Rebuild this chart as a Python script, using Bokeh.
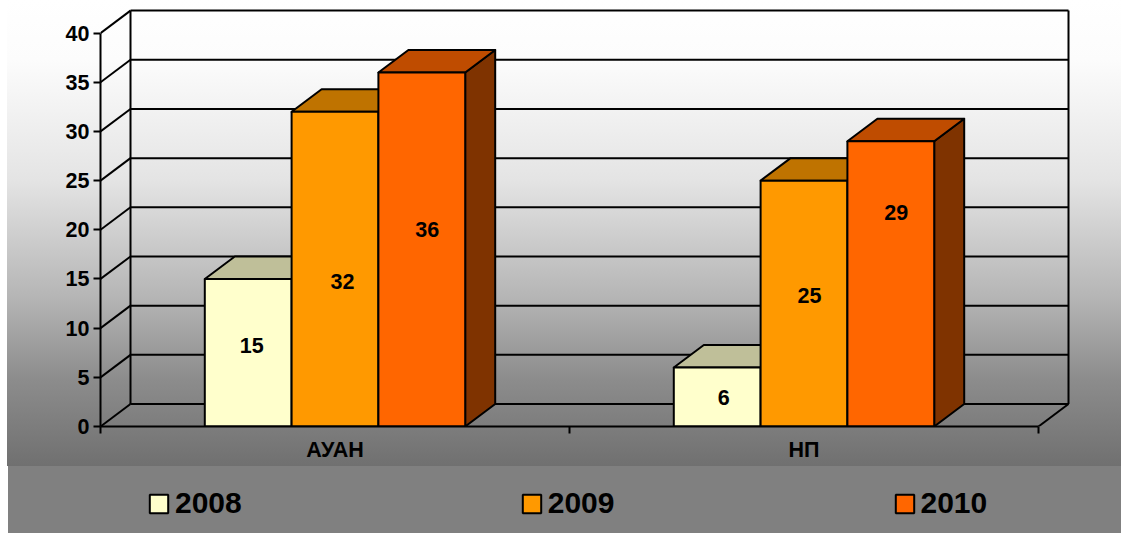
from bokeh.embed import file_html
from bokeh.resources import INLINE
from bokeh.plotting import figure
from bokeh.layouts import column
from bokeh.models import Range1d, FixedTicker, Legend, LegendItem, InlineStyleSheet
from bokeh.core.properties import value
import numpy as np

# ---- data ----
categories = ["АУАН", "НП"]
series_names = ["2008", "2009", "2010"]
values_2008 = [15, 6]
values_2009 = [32, 25]
values_2010 = [36, 29]
y_ticks = [0, 5, 10, 15, 20, 25, 30, 35, 40]

# ---- style / layout ----
FRONT = ["#FFFFCC", "#FF9900", "#FF6600"]
TOP = ["#BFBF99", "#BF7300", "#BF4C00"]
SIDE = ["#7F7F66", "#7F4C00", "#7F3300"]
PX_X = 469.0            # pixels per category
PX_Y = 9.835            # pixels per value unit
DX = 30 / PX_X          # oblique depth in x units
DY = 22.5 / PX_Y        # oblique depth in y units
BAR_W = 86.8 / PX_X
FW, FH = 971, 420
# label anchors as placed (by hand) in the source chart
LABEL_Y = [[8.2, 2.9], [14.7, 13.3], [20.0, 21.8]]
LABEL_DX = [[3.5 / PX_X, 6.5 / PX_X], [7.5 / PX_X, 5.5 / PX_X], [5.5 / PX_X, 5.5 / PX_X]]

css_top = (":host{background-color:#ffffff;background-repeat:no-repeat;background-position:7px 0;"
           "background-size:1114px 466px;background-image:linear-gradient(to bottom,"
           "#ffffff 0px,#fcfcfc 60px,#e4e4e4 180px,#b4b4b4 300px,#8c8c8c 380px,#707070 466px);}")
css_bottom = (":host{background-color:#ffffff;background-repeat:no-repeat;background-position:8px 0;"
              "background-size:1113px 67px;"
              "background-image:linear-gradient(to bottom,#808080,#808080);}")

p = figure(width=1121, height=466, frame_width=FW, frame_height=FH,
           x_range=Range1d(0, FW / PX_X), y_range=Range1d(0, FH / PX_Y),
           output_backend="svg", toolbar_location=None,
           min_border_left=100, min_border_right=50, min_border_top=6, min_border_bottom=40,
           border_fill_color=None, background_fill_color=None, outline_line_color=None,
           x_axis_type="linear", y_axis_type="linear",
           stylesheets=[InlineStyleSheet(css=css_top)])
p.grid.visible = False

# axes
ya = p.yaxis[0]
ya.ticker = FixedTicker(ticks=y_ticks)
ya.bounds = (0, 40)
ya.axis_line_color = "black"; ya.axis_line_width = 2
ya.major_tick_in = 0; ya.major_tick_out = 7
ya.major_tick_line_color = "black"; ya.major_tick_line_width = 2
ya.minor_tick_line_color = None
ya.major_label_text_font = "Liberation Sans"
ya.major_label_text_font_style = "bold"
ya.major_label_text_font_size = "21.5px"
ya.major_label_text_color = "black"
ya.major_label_standoff = 4

xa = p.xaxis[0]
xa.ticker = FixedTicker(ticks=[0.5, 1.5], minor_ticks=[0, 1, 2])
xa.major_label_overrides = {0.5: categories[0], 1.5: categories[1]}
xa.bounds = (0, 2)
xa.axis_line_color = "black"; xa.axis_line_width = 2
xa.major_tick_line_color = None
xa.major_tick_in = 0; xa.major_tick_out = 0
xa.minor_tick_in = 0; xa.minor_tick_out = 7
xa.minor_tick_line_color = "black"; xa.minor_tick_line_width = 2
xa.major_label_text_font = "Liberation Sans"
xa.major_label_text_font_style = "bold"
xa.major_label_text_font_size = "21.5px"
xa.major_label_text_color = "black"
xa.major_label_standoff = 4

# walls and floor
xend = 2.0
top_val = max(y_ticks)
ticks = np.array(y_ticks, dtype=float)
p.segment(x0=[DX] * len(ticks), y0=ticks + DY, x1=[xend + DX] * len(ticks), y1=ticks + DY,
          line_color="black", line_width=2)
p.segment(x0=[0] * len(ticks), y0=ticks, x1=[DX] * len(ticks), y1=ticks + DY,
          line_color="black", line_width=2)
p.segment(x0=[DX, xend + DX, xend], y0=[DY, DY, 0],
          x1=[DX, xend + DX, xend + DX], y1=[top_val + DY, top_val + DY, DY],
          line_color="black", line_width=2)

# bars
centers = np.array([0.5, 1.5])
all_vals = [values_2008, values_2009, values_2010]
for i, (name, vals) in enumerate(zip(series_names, all_vals)):
    vals = np.array(vals, dtype=float)
    left = centers + (i - 1.5) * BAR_W
    right = left + BAR_W
    p.patches([[r, r + DX, r + DX, r] for r in right],
              [[0, DY, v + DY, v] for v in vals],
              fill_color=SIDE[i], line_color="black", line_width=2, line_join="round")
    p.patches([[l, r, r + DX, l + DX] for l, r in zip(left, right)],
              [[v, v, v + DY, v + DY] for v in vals],
              fill_color=TOP[i], line_color="black", line_width=2, line_join="round")
    p.quad(left=left, right=right, bottom=0, top=vals,
           fill_color=FRONT[i], line_color="black", line_width=2)

for i, vals in enumerate(all_vals):
    left = centers + (i - 1.5) * BAR_W
    p.text(x=left + BAR_W / 2 + np.array(LABEL_DX[i]), y=LABEL_Y[i], text=[str(v) for v in vals],
           text_font=value("Liberation Sans"), text_font_style="bold",
           text_font_size="21.5px", text_color="black",
           text_align="center", text_baseline="middle")

# legend band: its own strip under the chart, so that the legend is not cut by the chart's frame
q = figure(width=1121, height=67, x_range=Range1d(0, 1), y_range=Range1d(0, 1),
           output_backend="svg", toolbar_location=None,
           x_axis_location=None, y_axis_location=None,
           min_border_left=0, min_border_right=0, min_border_top=0, min_border_bottom=0,
           border_fill_color=None, background_fill_color=None, outline_line_color=None,
           stylesheets=[InlineStyleSheet(css=css_bottom)])
q.grid.visible = False
items = []
for i, name in enumerate(series_names):
    key = q.quad(left=[2], right=[2], bottom=[2], top=[2],
                 fill_color=FRONT[i], line_color="black", line_width=2)
    items.append(LegendItem(label=name, renderers=[key]))
legend = Legend(items=items, orientation="horizontal", location=(47, 13),
                glyph_width=23, glyph_height=23, label_standoff=5, spacing=278,
                padding=0, margin=0, border_line_color=None, background_fill_alpha=0,
                label_text_font="Liberation Sans", label_text_font_style="bold",
                label_text_font_size="30px", label_text_color="black",
                label_height=20)
q.add_layout(legend, "center")

open("out.html", "w").write(file_html(column(p, q, spacing=0), INLINE))
